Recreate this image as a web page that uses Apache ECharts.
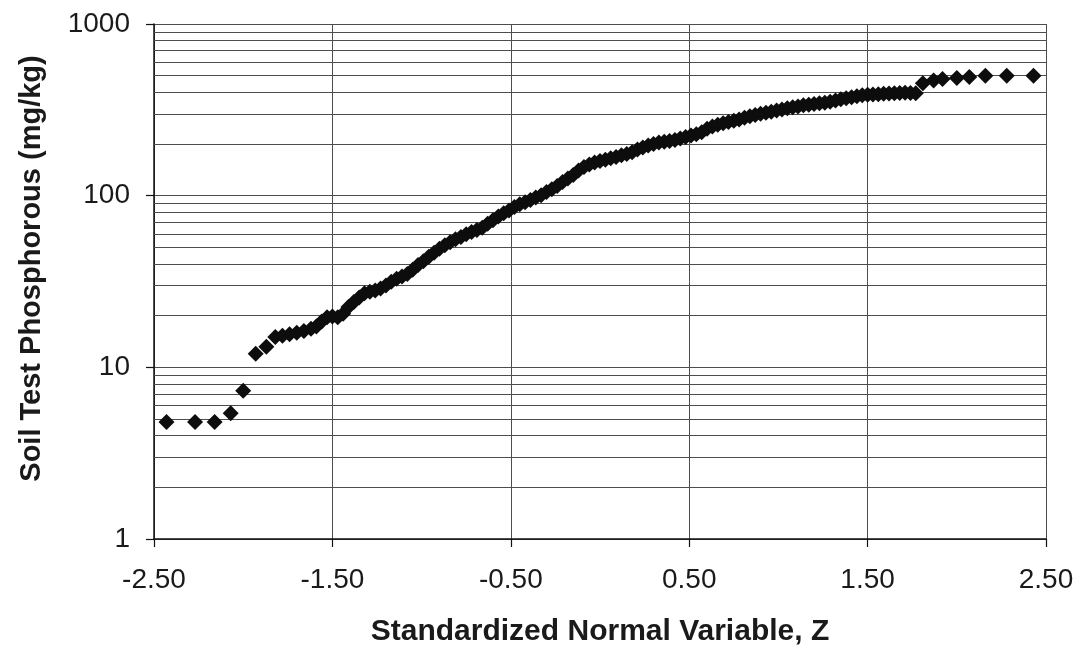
<!DOCTYPE html>
<html>
<head>
<meta charset="utf-8">
<script src="https://cdn.jsdelivr.net/npm/echarts@6/dist/echarts.min.js"></script>
<style>
html,body{margin:0;padding:0;background:#fff;}
#chart{width:1082px;height:652px;}
</style>
</head>
<body>
<div id="chart"></div>
<script>
// Standardized normal variable (x) for each sample
var zScores = [
  -2.43, -2.27, -2.16, -2.07, -2.00,
  -1.93, -1.87, -1.82, -1.78, -1.74, -1.70, -1.66, -1.62, -1.59, -1.56, -1.53, -1.50, -1.47, -1.44,
  -1.41, -1.38, -1.35, -1.32, -1.29, -1.26, -1.23, -1.20, -1.17, -1.14, -1.11, -1.08, -1.05, -1.02,
  -0.99, -0.96, -0.93, -0.90, -0.87, -0.84, -0.81, -0.78, -0.75, -0.72, -0.69, -0.66, -0.63, -0.60,
  -0.57, -0.54, -0.51, -0.48, -0.45, -0.42, -0.39, -0.36, -0.33, -0.30, -0.27, -0.24, -0.21, -0.18,
  -0.15, -0.12, -0.09, -0.06, -0.03, 0.00, 0.03, 0.06, 0.09, 0.12, 0.15, 0.18, 0.21, 0.24,
  0.27, 0.30, 0.33, 0.36, 0.39, 0.42, 0.45, 0.48, 0.51, 0.54, 0.57, 0.60, 0.63, 0.66,
  0.69, 0.72, 0.75, 0.78, 0.81, 0.84, 0.87, 0.90, 0.93, 0.96, 0.99, 1.02, 1.05, 1.08,
  1.11, 1.14, 1.17, 1.20, 1.23, 1.26, 1.29, 1.32, 1.35, 1.38, 1.41, 1.44, 1.47, 1.50,
  1.53, 1.56, 1.59, 1.62, 1.65, 1.68, 1.71, 1.74, 1.77,
  1.81, 1.87, 1.92, 2.00, 2.07, 2.16, 2.28, 2.43
];
// Soil test phosphorous (mg/kg)
var phosphorus = [
  4.8, 4.8, 4.8, 5.4, 7.3,
  12.0, 13.2, 15.0, 15.3, 15.6, 15.9, 16.3, 16.8, 17.3, 18.5, 19.6, 19.8, 19.6, 20.5,
  22.5, 24.0, 25.5, 27.0, 27.6, 28.0, 28.8, 30.0, 31.5, 32.8, 33.8, 35.0, 37.0, 39.5,
  41.5, 44.0, 46.5, 49.0, 51.5, 53.5, 55.8, 57.5, 59.5, 61.5, 63.0, 65.0, 68.5, 72.0,
  75.5, 79.0, 82.0, 86.0, 89.0, 91.5, 94.5, 97.5, 100.5, 105, 109, 114, 120, 126,
  132, 140, 147, 152, 156, 159, 162, 165, 168, 172, 175, 179, 186, 191,
  196, 200, 204, 206, 208, 211, 215, 220, 224, 228, 234, 245, 253, 259,
  264, 269, 273, 278, 284, 290, 295, 300, 304, 308, 313, 318, 323, 327,
  331, 336, 339, 342, 345, 348, 353, 358, 364, 369, 374, 380, 385, 387,
  389, 390, 392, 394, 395, 396, 397, 396, 395,
  452, 468, 478, 484, 491, 499, 499, 499
];
// Minor log gridlines
var minorGridValues = [2,3,4,5,6,7,8,9,20,30,40,50,60,70,80,90,200,300,400,500,600,700,800,900];

var xTitle = 'Standardized Normal Variable, Z';
var yTitle = 'Soil Test Phosphorous (mg/kg)';

var gridColor = '#4d4d4d';
var font = 'Liberation Sans, Arial, sans-serif';
var chart = echarts.init(document.getElementById('chart'), null, {renderer: 'canvas'});
chart.setOption({
  backgroundColor: '#ffffff',
  animation: false,
  grid: {left: 154, right: 36, top: 24, bottom: 110, containLabel: false},
  xAxis: {
    type: 'value', min: -2.5, max: 2.5, interval: 1,
    name: xTitle, nameLocation: 'middle', nameGap: 78,
    nameTextStyle: {fontFamily: font, fontWeight: 'bold', fontSize: 30, color: '#1a1a1a'},
    axisLine: {show: true, onZero: false, lineStyle: {color: '#111', width: 1.5}},
    axisTick: {show: true, inside: false, length: 8, lineStyle: {color: '#111', width: 1.2}},
    axisLabel: {margin: 27, fontFamily: font, fontSize: 28, color: '#1a1a1a',
      formatter: function (v) { return v.toFixed(2); }},
    splitLine: {show: true, lineStyle: {color: gridColor, width: 1}}
  },
  yAxis: {
    type: 'log', logBase: 10, min: 1, max: 1000,
    name: yTitle, nameLocation: 'middle', nameGap: 108, nameRotate: 90,
    nameTextStyle: {fontFamily: font, fontWeight: 'bold', fontSize: 29, color: '#1a1a1a', padding: [0, 0, 0, 26]},
    axisLine: {show: true, onZero: false, lineStyle: {color: '#111', width: 1.5}},
    axisTick: {show: true, inside: false, length: 8, lineStyle: {color: '#111', width: 1.2}},
    axisLabel: {margin: 24, fontFamily: font, fontSize: 28, color: '#1a1a1a',
      formatter: function (v) { return String(Math.round(v)); }},
    splitLine: {show: true, lineStyle: {color: gridColor, width: 1}},
    minorTick: {show: false},
    minorSplitLine: {show: false}
  },
  series: [{
    type: 'scatter',
    symbol: 'diamond',
    symbolSize: 16,
    itemStyle: {color: '#0d0d0d', opacity: 1},
    data: zScores.map(function (z, i) { return [z, phosphorus[i]]; }),
    markLine: {
      silent: true,
      symbol: ['none', 'none'],
      label: {show: false},
      lineStyle: {color: gridColor, width: 1, type: 'solid'},
      data: minorGridValues.map(function (v) { return {yAxis: v}; })
    },
    z: 5
  }]
});
</script>
</body>
</html>
